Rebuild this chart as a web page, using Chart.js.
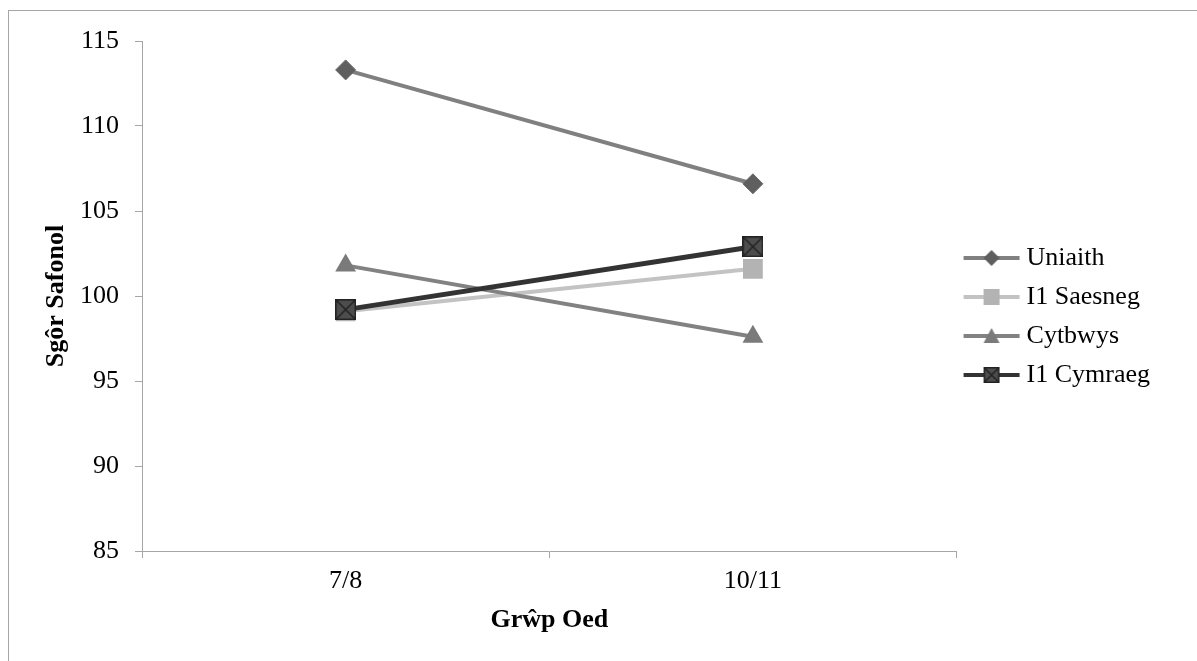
<!DOCTYPE html>
<html lang="cy">
<head>
    <meta charset="UTF-8">
    <title>Sgôr Safonol yn ôl Grŵp Oed</title>
    <script src="https://cdn.jsdelivr.net/npm/chart.js"></script>
    <style>
        html, body {
            margin: 0;
            padding: 0;
            background: #ffffff;
            overflow: hidden;
        }
        .frame {
            position: absolute;
            left: 8px;
            top: 10px;
            width: 1300px;
            height: 800px;
            border: 1px solid #a6a6a6;
        }
        .container {
            position: absolute;
            left: 0;
            top: 0;
            width: 1197px;
            height: 661px;
        }
    </style>
</head>
<body>
    <div class="frame"></div>
    <div class="container">
        <canvas id="ageChart"></canvas>
    </div>

    <script>
        // data
        const ageGroups = ['7/8', '10/11'];
        const seriesNames = ['Uniaith', 'I1 Saesneg', 'Cytbwys', 'I1 Cymraeg'];
        const uniaith = [113.3, 106.6];
        const i1Saesneg = [99.1, 101.6];
        const cytbwys = [101.8, 97.6];
        const i1Cymraeg = [99.2, 102.9];
        const yTicks = [85, 90, 95, 100, 105, 110, 115];

        const FONT = "'Liberation Serif', 'Times New Roman', serif";

        // square marker with a cross, used for I1 Cymraeg
        function crossSquare(size) {
            const c = document.createElement('canvas');
            c.width = size;
            c.height = size;
            const g = c.getContext('2d');
            g.fillStyle = '#4d4d4d';
            g.fillRect(0, 0, size, size);
            g.strokeStyle = '#222222';
            g.lineWidth = 1.5;
            g.strokeRect(0.75, 0.75, size - 1.5, size - 1.5);
            g.beginPath();
            g.moveTo(1, 1); g.lineTo(size - 1, size - 1);
            g.moveTo(size - 1, 1); g.lineTo(1, size - 1);
            g.stroke();
            return c;
        }

        // legend swatch: line with a small marker in the middle
        function legendIcon(lineColor, markerColor, shape) {
            const c = document.createElement('canvas');
            c.width = 60;
            c.height = 26;
            const g = c.getContext('2d');
            const cx = 30, cy = 13;
            g.strokeStyle = lineColor;
            g.lineWidth = 4;
            g.beginPath();
            g.moveTo(2, cy);
            g.lineTo(58, cy);
            g.stroke();
            g.fillStyle = markerColor;
            if (shape === 'diamond') {
                g.beginPath();
                g.moveTo(cx, cy - 8); g.lineTo(cx + 8, cy); g.lineTo(cx, cy + 8); g.lineTo(cx - 8, cy);
                g.closePath();
                g.fill();
            } else if (shape === 'square') {
                g.fillRect(cx - 8, cy - 8, 16, 16);
            } else if (shape === 'triangle') {
                g.beginPath();
                g.moveTo(cx, cy - 8); g.lineTo(cx + 8, cy + 7); g.lineTo(cx - 8, cy + 7);
                g.closePath();
                g.fill();
            } else {
                g.drawImage(crossSquare(16), cx - 8, cy - 8);
            }
            return c;
        }

        const legendIcons = [
            legendIcon('#808080', '#5f5f5f', 'diamond'),
            legendIcon('#c3c3c3', '#b3b3b3', 'square'),
            legendIcon('#828282', '#7a7a7a', 'triangle'),
            legendIcon('#333333', '#4d4d4d', 'cross')
        ];

        const ctx = document.getElementById('ageChart').getContext('2d');

        new Chart(ctx, {
            type: 'line',
            data: {
                labels: ageGroups,
                datasets: [{
                    label: seriesNames[0],
                    data: uniaith,
                    borderColor: '#808080',
                    borderWidth: 4,
                    pointStyle: 'rectRot',
                    pointRadius: 10,
                    pointBackgroundColor: '#5f5f5f',
                    pointBorderColor: '#6a6a6a',
                    pointBorderWidth: 1,
                    order: 0
                }, {
                    label: seriesNames[1],
                    data: i1Saesneg,
                    borderColor: '#c3c3c3',
                    borderWidth: 4,
                    pointStyle: 'rect',
                    pointRadius: 14,
                    pointBackgroundColor: '#b3b3b3',
                    pointBorderColor: '#b3b3b3',
                    pointBorderWidth: 0,
                    order: -1
                }, {
                    label: seriesNames[2],
                    data: cytbwys,
                    borderColor: '#828282',
                    borderWidth: 4,
                    pointStyle: 'triangle',
                    pointRadius: 12,
                    pointBackgroundColor: '#7a7a7a',
                    pointBorderColor: '#7a7a7a',
                    pointBorderWidth: 0,
                    order: -2
                }, {
                    label: seriesNames[3],
                    data: i1Cymraeg,
                    borderColor: '#333333',
                    borderWidth: 5,
                    pointStyle: crossSquare(21),
                    pointRadius: 10,
                    order: -3
                }]
            },
            options: {
                responsive: true,
                maintainAspectRatio: false,
                animation: false,
                events: [],
                layout: {
                    padding: { top: 41, right: 37, bottom: 0, left: 0 }
                },
                scales: {
                    x: {
                        offset: true,
                        grid: {
                            offset: true,
                            drawOnChartArea: false,
                            tickLength: 7,
                            color: '#a6a6a6'
                        },
                        border: { color: '#a6a6a6' },
                        ticks: {
                            color: '#000',
                            padding: 8,
                            font: { family: FONT, size: 26 }
                        },
                        title: {
                            display: true,
                            text: 'Grŵp Oed',
                            color: '#000',
                            font: { family: FONT, size: 26, weight: 'bold' },
                            padding: { top: 0, bottom: 25 }
                        },
                        afterFit: function (scale) { scale.height = 110; }
                    },
                    y: {
                        min: yTicks[0],
                        max: yTicks[yTicks.length - 1],
                        afterBuildTicks: function (scale) {
                            scale.ticks = yTicks.map(v => ({ value: v }));
                        },
                        grid: {
                            drawOnChartArea: false,
                            tickLength: 7,
                            color: '#a6a6a6'
                        },
                        border: { color: '#a6a6a6' },
                        ticks: {
                            color: '#000',
                            padding: 16,
                            font: { family: FONT, size: 26 }
                        },
                        title: {
                            display: true,
                            text: 'Sgôr Safonol',
                            color: '#000',
                            font: { family: FONT, size: 26, weight: 'bold' },
                            padding: { top: 41, bottom: 0 }
                        },
                        afterFit: function (scale) { scale.width = 142; }
                    }
                },
                plugins: {
                    tooltip: { enabled: false },
                    legend: {
                        position: 'right',
                        fullSize: false,
                        align: 'center',
                        title: {
                            display: true,
                            text: '',
                            font: { size: 10 },
                            padding: 14.5
                        },
                        labels: {
                            usePointStyle: true,
                            pointStyleWidth: 44,
                            padding: 13,
                            color: '#000',
                            font: { family: FONT, size: 26 },
                            generateLabels: function (chart) {
                                const items = Chart.defaults.plugins.legend.labels.generateLabels(chart);
                                items.forEach(it => { it.pointStyle = legendIcons[it.datasetIndex]; });
                                return items.sort((a, b) => a.datasetIndex - b.datasetIndex);
                            }
                        }
                    }
                }
            }
        });
    </script>
</body>
</html>
